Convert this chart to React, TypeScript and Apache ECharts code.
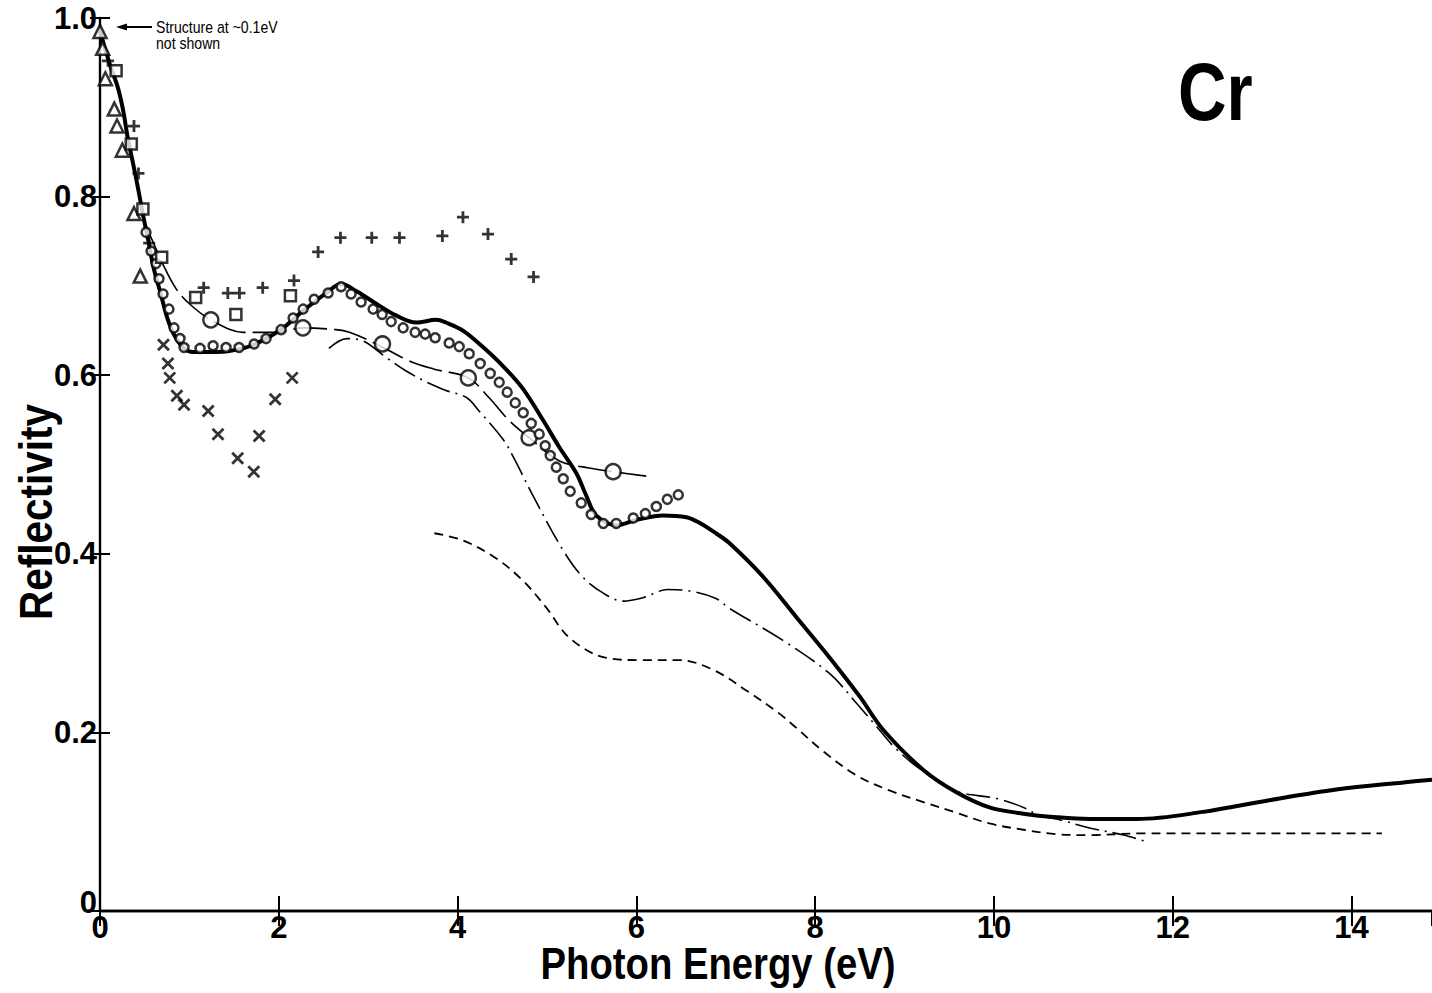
import React, { useEffect, useRef } from "react";
import * as echarts from "echarts";

const FONT = "'Liberation Sans', Arial, sans-serif";

// Thick solid curve
const mainX = [0, 0.05, 0.12, 0.2, 0.26, 0.31, 0.37, 0.43, 0.48, 0.54, 0.6, 0.68, 0.75, 0.82, 0.93, 1.04, 1.3, 1.6, 1.82, 2.05, 2.27, 2.53, 2.7, 2.87, 3.09, 3.31, 3.54, 3.76, 3.87, 4.06, 4.29, 4.51, 4.73, 4.96, 5.14, 5.33, 5.44, 5.55, 5.78, 6.0, 6.3, 6.56, 6.7, 6.89, 7.04, 7.42, 7.79, 8.16, 8.5, 8.76, 9.21, 9.58, 9.95, 10.33, 10.7, 11.07, 11.6, 12.34, 13.08, 13.83, 14.58, 14.9];
const mainY = [0.985, 0.968, 0.945, 0.922, 0.896, 0.866, 0.837, 0.807, 0.78, 0.751, 0.72, 0.691, 0.665, 0.647, 0.631, 0.626, 0.626, 0.63, 0.639, 0.653, 0.672, 0.692, 0.702, 0.694, 0.68, 0.667, 0.659, 0.662, 0.659, 0.65, 0.631, 0.61, 0.585, 0.549, 0.519, 0.49, 0.465, 0.443, 0.432, 0.438, 0.443, 0.441, 0.435, 0.423, 0.412, 0.374, 0.329, 0.284, 0.24, 0.203, 0.158, 0.133, 0.116, 0.109, 0.105, 0.103, 0.103, 0.111, 0.124, 0.136, 0.144, 0.147];

// Thin long-dashed curve with large open circles
const longDashX = [0.5, 0.59, 0.7, 0.85, 1.0, 1.24, 1.6, 1.97, 2.27, 2.64, 2.79, 3.09, 3.46, 3.73, 4.12, 4.35, 4.58, 4.8, 5.14, 5.47, 5.74, 6.11];
const longDashY = [0.77, 0.75, 0.725, 0.697, 0.68, 0.662, 0.648, 0.648, 0.653, 0.651, 0.648, 0.635, 0.616, 0.607, 0.597, 0.575, 0.549, 0.53, 0.504, 0.496, 0.492, 0.487];
const bigCircleX = [1.24, 2.27, 3.16, 4.12, 4.8, 5.74];
const bigCircleY = [0.662, 0.653, 0.635, 0.597, 0.53, 0.492];

// Dash-dot curve
const dashDotX = [2.56, 2.76, 2.95, 3.2, 3.42, 3.68, 3.87, 4.1, 4.24, 4.51, 4.62, 4.87, 5.18, 5.4, 5.63, 5.85, 6.08, 6.35, 6.62, 6.89, 7.04, 7.64, 8.16, 8.46, 8.7, 8.9, 9.2, 9.58, 10.03, 10.33, 10.5, 10.7, 11.07, 11.45, 11.73];
const dashDotY = [0.63, 0.641, 0.638, 0.62, 0.605, 0.591, 0.583, 0.575, 0.56, 0.528, 0.509, 0.46, 0.404, 0.374, 0.356, 0.347, 0.351, 0.36, 0.358, 0.35, 0.339, 0.303, 0.266, 0.233, 0.205, 0.182, 0.157, 0.134, 0.126, 0.116, 0.107, 0.103, 0.093, 0.085, 0.077];

// Short-dashed curve
const shortDashX = [3.74, 4.06, 4.43, 4.73, 4.99, 5.25, 5.64, 6.03, 6.48, 6.86, 7.23, 7.6, 7.79, 8.1, 8.46, 8.83, 9.21, 9.58, 9.95, 10.33, 10.7, 11.07, 11.67, 12.5, 13.5, 14.34];
const shortDashY = [0.423, 0.415, 0.395, 0.37, 0.34, 0.306, 0.284, 0.281, 0.281, 0.27, 0.247, 0.221, 0.205, 0.178, 0.152, 0.135, 0.122, 0.11, 0.098, 0.091, 0.086, 0.085, 0.087, 0.087, 0.087, 0.087];

// Small open circles
const smallCircleX = [0.515, 0.571, 0.627, 0.66, 0.705, 0.772, 0.828, 0.895, 0.94, 1.119, 1.265, 1.41, 1.556, 1.724, 1.858, 2.026, 2.16, 2.272, 2.395, 2.552, 2.697, 2.809, 2.921, 3.055, 3.156, 3.257, 3.391, 3.525, 3.637, 3.749, 3.906, 4.018, 4.13, 4.253, 4.365, 4.466, 4.555, 4.645, 4.734, 4.824, 4.913, 4.98, 5.036, 5.104, 5.182, 5.26, 5.383, 5.495, 5.63, 5.775, 5.965, 6.1, 6.223, 6.346, 6.469];
const smallCircleY = [0.76, 0.739, 0.725, 0.708, 0.691, 0.674, 0.653, 0.641, 0.631, 0.63, 0.633, 0.631, 0.631, 0.635, 0.641, 0.651, 0.664, 0.674, 0.685, 0.692, 0.699, 0.691, 0.682, 0.674, 0.668, 0.66, 0.653, 0.648, 0.646, 0.642, 0.636, 0.632, 0.624, 0.613, 0.602, 0.592, 0.581, 0.569, 0.558, 0.546, 0.534, 0.521, 0.51, 0.497, 0.484, 0.47, 0.457, 0.444, 0.434, 0.434, 0.44, 0.445, 0.453, 0.461, 0.466];

// Open triangles
const triangleX = [0.0, 0.03, 0.06, 0.16, 0.19, 0.25, 0.38, 0.45];
const triangleY = [0.985, 0.966, 0.932, 0.898, 0.879, 0.852, 0.781, 0.711];

// Open squares
const squareX = [0.18, 0.35, 0.48, 0.69, 1.07, 1.52, 2.13];
const squareY = [0.941, 0.859, 0.786, 0.732, 0.687, 0.668, 0.689];

// Plus signs
const plusX = [0.09, 0.38, 0.43, 0.55, 1.16, 1.43, 1.56, 1.82, 2.17, 2.44, 2.69, 3.04, 3.35, 3.83, 4.06, 4.34, 4.6, 4.85];
const plusY = [0.952, 0.879, 0.826, 0.748, 0.698, 0.692, 0.692, 0.698, 0.706, 0.738, 0.754, 0.754, 0.754, 0.756, 0.777, 0.758, 0.73, 0.71];

// Crosses
const crossX = [0.71, 0.76, 0.78, 0.86, 0.94, 1.21, 1.32, 1.54, 1.72, 1.78, 1.96, 2.15];
const crossY = [0.634, 0.613, 0.597, 0.577, 0.567, 0.56, 0.534, 0.507, 0.492, 0.532, 0.573, 0.597];

const xTicks = [0, 2, 4, 6, 8, 10, 12, 14];
const yTicks = [0, 0.2, 0.4, 0.6, 0.8, 1.0];

const zip = (xs: number[], ys: number[]) => xs.map((x, i) => [x, ys[i]]);

export default function App() {
  const ref = useRef<HTMLDivElement>(null);
  useEffect(() => {
    if (!ref.current) return;
    const chart = echarts.init(ref.current, undefined, { renderer: "svg" });
    const axisLine = { show: true, lineStyle: { color: "#000", width: 2.4 } };
    const labelStyle = { color: "#000", fontFamily: FONT, fontSize: 31, fontWeight: "bold" as const };
    const openItem = { color: "#fff", borderColor: "#000", borderWidth: 2.5 };
    chart.setOption({
      animation: false,
      backgroundColor: "#fff",
      grid: { left: 100, top: 18, right: 0, bottom: 82, containLabel: false },
      xAxis: [
        {
          type: "value", min: 0, max: 14.9, interval: 2, position: "bottom",
          axisLine, splitLine: { show: false },
          axisTick: { show: true, inside: true, length: 15, lineStyle: { color: "#000", width: 2 } },
          axisLabel: { ...labelStyle, margin: 1, lineHeight: 30, showMaxLabel: false, formatter: (v: number) => (xTicks.includes(v) ? String(v) : "") },
        },
        {
          type: "value", min: 0, max: 14.9, interval: 2, position: "top",
          axisLine, splitLine: { show: false },
          axisTick: { show: true, inside: true, length: 15, lineStyle: { color: "#000", width: 2 } },
          axisLabel: { show: false },
        },
      ],
      yAxis: [
        {
          type: "value", min: 0, max: 1, interval: 0.2, position: "left",
          axisLine, splitLine: { show: false },
          axisTick: { show: true, inside: true, length: 10, lineStyle: { color: "#000", width: 2 } },
          axisLabel: {
            ...labelStyle, margin: 3, lineHeight: 30,
            formatter: (v: number) => (yTicks.some((t) => Math.abs(t - v) < 1e-6) ? (v === 0 ? "{z|0}" : v.toFixed(1)) : ""),
            rich: { z: { color: "#000", fontFamily: FONT, fontSize: 31, fontWeight: "bold", padding: [0, 0, 18, 0] } },
          },
        },
        {
          type: "value", min: 0, max: 1, interval: 0.2, position: "right",
          axisLine: { show: false }, splitLine: { show: false },
          axisTick: { show: true, inside: true, length: 10, lineStyle: { color: "#000", width: 2 } },
          axisLabel: { show: false },
        },
      ],
      series: [
        { type: "line", data: zip(shortDashX, shortDashY), smooth: 0.35, showSymbol: false, lineStyle: { color: "#000", width: 1.8, type: [9, 6] } },
        { type: "line", data: zip(dashDotX, dashDotY), smooth: 0.35, showSymbol: false, lineStyle: { color: "#000", width: 1.6, type: [24, 6, 2, 6] } },
        { type: "line", data: zip(longDashX, longDashY), smooth: 0.35, showSymbol: false, lineStyle: { color: "#000", width: 1.6, type: [34, 7] } },
        { type: "line", data: zip(mainX, mainY), smooth: 0.35, showSymbol: false, lineStyle: { color: "#000", width: 4 } },
        { type: "scatter", data: zip(bigCircleX, bigCircleY), symbol: "circle", symbolSize: 15, itemStyle: openItem, z: 5 },
        { type: "scatter", data: zip(smallCircleX, smallCircleY), symbol: "circle", symbolSize: 9, itemStyle: openItem, z: 5 },
        { type: "scatter", data: zip(triangleX, triangleY), symbol: "triangle", symbolSize: 13, itemStyle: openItem, z: 5 },
        { type: "scatter", data: zip(squareX, squareY), symbol: "rect", symbolSize: 11, itemStyle: openItem, z: 5 },
        { type: "scatter", data: zip(plusX, plusY), symbol: "path://M5,0L5,10M0,5L10,5", symbolSize: 12, itemStyle: { color: "#000", borderColor: "#000", borderWidth: 2.8 }, z: 5 },
        { type: "scatter", data: zip(crossX, crossY), symbol: "path://M0,0L10,10M10,0L0,10", symbolSize: 11, itemStyle: { color: "#000", borderColor: "#000", borderWidth: 2.8 }, z: 5 },
      ],
      graphic: [
        { type: "text", x: 718, y: 964, scaleX: 0.87, style: { text: "Photon Energy (eV)", fontFamily: FONT, fontSize: 44, fontWeight: "bold", fill: "#000", align: "center", verticalAlign: "middle" } },
        { type: "text", x: 36, y: 512, rotation: Math.PI / 2, scaleX: 0.88, style: { text: "Reflectivity", fontFamily: FONT, fontSize: 46, fontWeight: "bold", fill: "#000", align: "center", verticalAlign: "middle" } },
        { type: "text", x: 1178, y: 92, scaleX: 0.82, style: { text: "Cr", fontFamily: FONT, fontSize: 82, fontWeight: "bold", fill: "#000", align: "left", verticalAlign: "middle" } },
        { type: "line", shape: { x1: 124, y1: 27, x2: 152, y2: 27 }, style: { stroke: "#000", lineWidth: 2 } },
        { type: "polygon", shape: { points: [[116, 27], [127, 23.5], [127, 30.5]] }, style: { fill: "#000" } },
        { type: "text", x: 156, y: 27, scaleX: 0.88, style: { text: "Structure at ~0.1eV", fontFamily: FONT, fontSize: 16, fill: "#000", align: "left", verticalAlign: "middle" } },
        { type: "text", x: 156, y: 43, scaleX: 0.88, style: { text: "not shown", fontFamily: FONT, fontSize: 16, fill: "#000", align: "left", verticalAlign: "middle" } },
      ],
    });
    return () => chart.dispose();
  }, []);
  return <div ref={ref} style={{ position: "absolute", left: 0, top: 0, width: 1432, height: 993, background: "#fff" }} />;
}
